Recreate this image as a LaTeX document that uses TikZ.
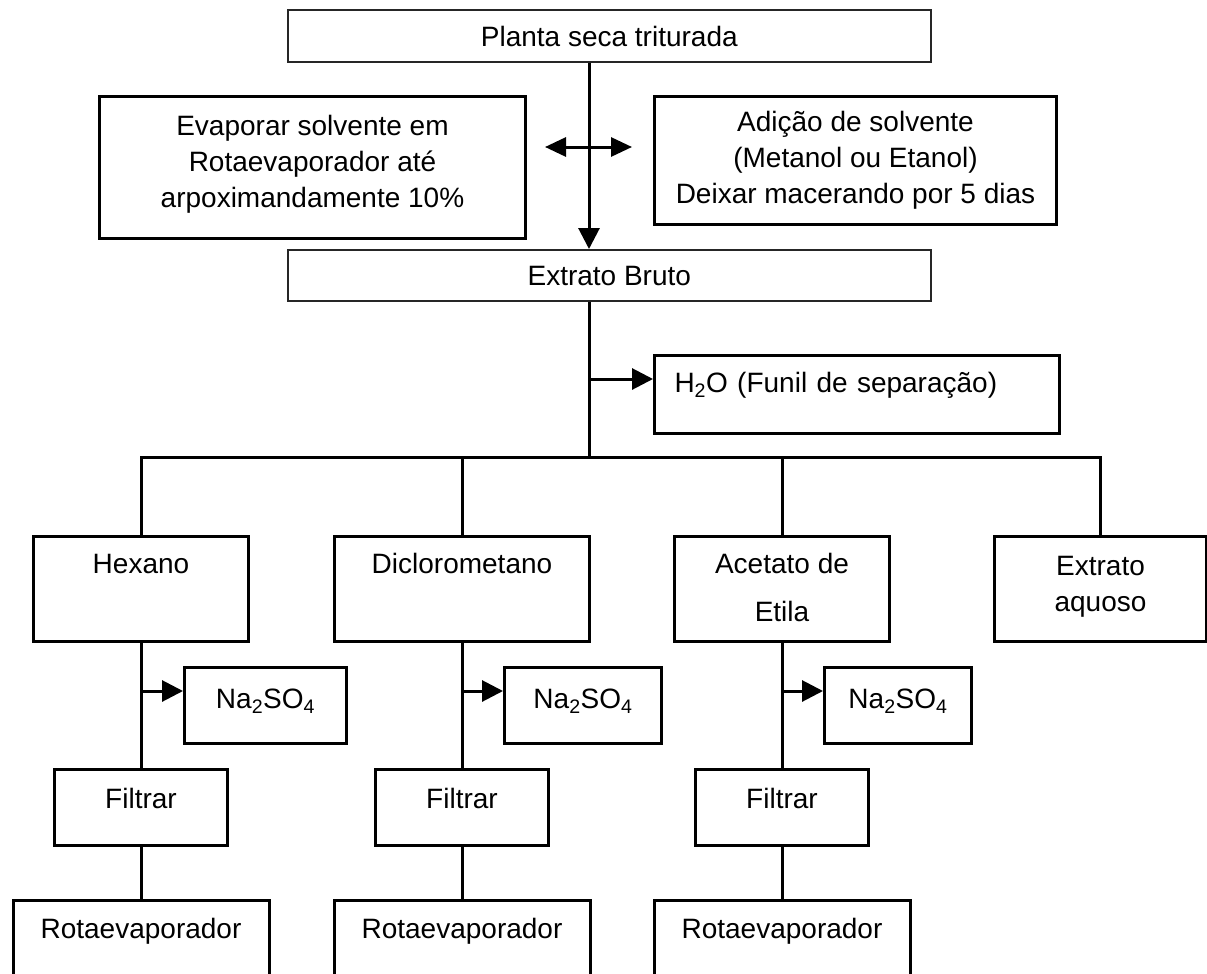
\documentclass[tikz,border=0pt]{standalone}
\usepackage{fontspec}
\setmainfont{Liberation Sans}
\usetikzlibrary{arrows.meta}

\newcommand\flowfont{\fontsize{28}{36}\selectfont}

\begin{document}
\begin{tikzpicture}[
    x=1pt, y=-1pt,
    box/.style={draw, line width=3pt, anchor=north west, inner xsep=0pt, inner ysep=0pt, align=center, font=\flowfont},
    thinbox/.style={box, line width=1.6pt, draw=black!85},
    link/.style={line width=3pt},
    arrow/.style={link, -{Triangle[length=21pt, width=21pt]}},
    dblarrow/.style={link, {Triangle[length=21pt, width=19pt]}-{Triangle[length=21pt, width=19pt]}}
]
\useasboundingbox (0,0) rectangle (1207,974);
\clip (0,0) rectangle (1207,974);

% Extraction
\node[thinbox, minimum width=643pt, text height=37pt, text depth=15pt] (planta) at (287,9) {Planta seca triturada};
\node[box, minimum width=426pt, text height=111pt, text depth=31pt] (evap) at (98,95) {Evaporar solvente em\\ Rotaevaporador até\\ arpoximandamente 10\%};
\node[box, minimum width=402pt, text height=107pt, text depth=21pt] (adicao) at (653,95) {Adição de solvente\\ (Metanol ou Etanol)\\ Deixar macerando por 5 dias};
\node[thinbox, minimum width=643pt, text height=36pt, text depth=15pt] (bruto) at (287,249) {Extrato Bruto};
\node[box, minimum width=405pt, text width=365pt, inner xsep=20pt, align=left, text height=37pt, text depth=41pt] (h2o) at (653,354) {H\textsubscript{2}O (Funil de separação)};

\coordinate (spine) at (589,0);
\coordinate (evapTip) at (545,147);
\coordinate (adicTip) at (632,147);
\coordinate (h2oY) at (0,379);
\coordinate (bar) at (0,457);
\coordinate (naY) at (0,691);

\draw[arrow] (planta.south -| spine) -- (bruto.north -| spine);
\draw[dblarrow] (evapTip) -- (adicTip);
\draw[link] (bruto.south -| spine) -- (spine |- bar);
\draw[arrow] (spine |- h2oY) -- (h2o.west |- h2oY);

% Partition
\node[box, minimum width=215pt, text height=37pt, text depth=68pt] (hexano) at (32,535) {Hexano};
\node[box, minimum width=255pt, text height=37pt, text depth=68pt] (dicloro) at (333,535) {Diclorometano};
\node[box, minimum width=215pt, text height=85pt, text depth=20pt] (acetato) at (673,535) {Acetato de\\[12pt] Etila};
\node[box, minimum width=212pt, text height=75pt, text depth=30pt] (aquoso) at (993,535) {Extrato\\ aquoso};

\draw[link] (hexano.north) -- (hexano.north |- bar) -- (aquoso.north |- bar) -- (aquoso.north);
\draw[link] (dicloro.north) -- (dicloro.north |- bar);
\draw[link] (acetato.north) -- (acetato.north |- bar);

% Drying and concentration
\node[box, minimum width=162pt, text height=41pt, text depth=35pt] (na1) at (183,666) {Na\textsubscript{2}SO\textsubscript{4}};
\node[box, minimum width=157pt, text height=41pt, text depth=35pt] (na2) at (503,666) {Na\textsubscript{2}SO\textsubscript{4}};
\node[box, minimum width=147pt, text height=41pt, text depth=35pt] (na3) at (823,666) {Na\textsubscript{2}SO\textsubscript{4}};

\node[box, minimum width=173pt, text height=39pt, text depth=37pt] (filtrar1) at (53,768) {Filtrar};
\node[box, minimum width=173pt, text height=39pt, text depth=37pt] (filtrar2) at (374,768) {Filtrar};
\node[box, minimum width=173pt, text height=39pt, text depth=37pt] (filtrar3) at (694,768) {Filtrar};

\node[box, minimum width=256pt, text height=38pt, text depth=70pt] (rot1) at (11.5,899) {Rotaevaporador};
\node[box, minimum width=256pt, text height=38pt, text depth=70pt] (rot2) at (332.5,899) {Rotaevaporador};
\node[box, minimum width=256pt, text height=38pt, text depth=70pt] (rot3) at (652.5,899) {Rotaevaporador};

\draw[link] (hexano.south) -- (filtrar1.north);
\draw[link] (dicloro.south) -- (filtrar2.north);
\draw[link] (acetato.south) -- (filtrar3.north);
\draw[arrow] (hexano.south |- naY) -- (na1.west |- naY);
\draw[arrow] (dicloro.south |- naY) -- (na2.west |- naY);
\draw[arrow] (acetato.south |- naY) -- (na3.west |- naY);
\draw[link] (filtrar1.south) -- (rot1.north);
\draw[link] (filtrar2.south) -- (rot2.north);
\draw[link] (filtrar3.south) -- (rot3.north);

\end{tikzpicture}
\end{document}
